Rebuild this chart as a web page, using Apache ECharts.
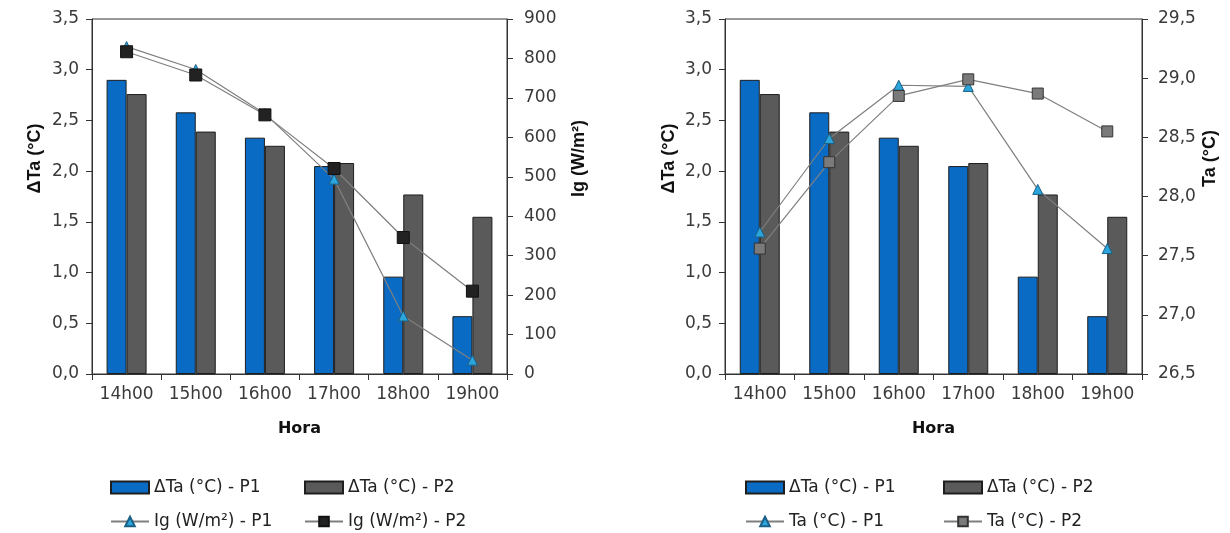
<!DOCTYPE html>
<html>
<head>
<meta charset="utf-8">
<script src="https://cdn.jsdelivr.net/npm/echarts@6/dist/echarts.min.js"></script>
<style>
  html, body { margin: 0; padding: 0; background: #ffffff; }
  #chart { width: 1230px; height: 533px; }
</style>
</head>
<body>
<div id="chart"></div>
<script>
// ---- Data ----
const categories = ['14h00', '15h00', '16h00', '17h00', '18h00', '19h00'];
const dTaP1 = [2.90, 2.58, 2.33, 2.05, 0.96, 0.57];
const dTaP2 = [2.76, 2.39, 2.25, 2.08, 1.77, 1.55];
const igP1 = [830, 772, 660, 494, 147, 35];
const igP2 = [817, 758, 657, 521, 346, 210];
const taP1 = [27.70, 28.49, 28.94, 28.93, 28.06, 27.56];
const taP2 = [27.56, 28.29, 28.85, 28.99, 28.87, 28.55];

const nameBarP1 = 'ΔTa (°C) - P1';
const nameBarP2 = 'ΔTa (°C) - P2';
const nameIgP1 = 'Ig (W/m²) - P1';
const nameIgP2 = 'Ig (W/m²) - P2';
const nameTaP1 = 'Ta (°C) - P1';
const nameTaP2 = 'Ta (°C) - P2';

// ---- Styles ----
const FONT = '"DejaVu Sans", Arial, sans-serif';
const TITLE_FONT = '"Liberation Sans", Arial, sans-serif';
const AXIS_COLOR = '#333333';
const LABEL_COLOR = '#3a3a3a';
const BLUE = '#0a6bc4';
const GRAY = '#5a5a5a';
const EDGE = '#1e1e1e';
const TRI = '#2aa6dc';
const LINE_COLOR = '#7f7f7f';

const comma = v => v.toFixed(1).replace('.', ',');

function xAxis(gridIndex) {
  return {
    type: 'category', gridIndex: gridIndex, data: categories, boundaryGap: true,
    name: 'Hora', nameLocation: 'middle', nameGap: 47,
    nameTextStyle: { fontFamily: FONT, fontSize: 16, fontWeight: 'bold', color: '#111' },
    axisLine: { lineStyle: { color: AXIS_COLOR, width: 1 } },
    axisTick: { show: true, interval: 0, length: 6, lineStyle: { color: AXIS_COLOR } },
    axisLabel: { interval: 0, hideOverlap: false, fontFamily: FONT, fontSize: 17, color: LABEL_COLOR, margin: 12 },
    splitLine: { show: false }
  };
}

function yAxis(gridIndex, opts) {
  return Object.assign({
    type: 'value', gridIndex: gridIndex,
    nameLocation: 'middle', nameRotate: 90,
    axisLine: { show: true, lineStyle: { color: AXIS_COLOR, width: 1 } },
    axisTick: { show: true, length: 6, lineStyle: { color: AXIS_COLOR } },
    splitLine: { show: false }
  }, opts);
}

const nameStyle = (pad) => ({ fontFamily: TITLE_FONT, fontSize: 18, fontWeight: 'bold', color: '#111', padding: pad });

function barSeries(name, data, color, xi, yi) {
  return {
    name: name, type: 'bar', xAxisIndex: xi, yAxisIndex: yi, data: data,
    barWidth: 20, barGap: '0%',
    itemStyle: { color: color, borderColor: EDGE, borderWidth: 1 },
    z: 2
  };
}

function lineSeries(name, data, symbol, size, fill, border, xi, yi) {
  return {
    name: name, type: 'line', xAxisIndex: xi, yAxisIndex: yi, data: data,
    symbol: symbol, symbolSize: size,
    lineStyle: { color: LINE_COLOR, width: 1.2 },
    itemStyle: { color: fill, borderColor: border, borderWidth: 1 },
    z: 5
  };
}

function legendItem(name, left, top, icon) {
  const l = {
    data: [name], left: left, top: top, orient: 'horizontal', padding: 0,
    itemWidth: 38, itemHeight: 12, itemGap: 4,
    textStyle: { fontFamily: FONT, fontSize: 17, color: '#222' },
    selectedMode: false
  };
  if (icon) l.icon = icon;
  return l;
}

const option = {
  backgroundColor: '#ffffff',
  animation: false,
  grid: [
    { left: 92, right: 723, top: 19, bottom: 159, show: true, borderColor: AXIS_COLOR, borderWidth: 1 },
    { left: 725, right: 88, top: 19, bottom: 159, show: true, borderColor: AXIS_COLOR, borderWidth: 1 }
  ],
  legend: [
    legendItem(nameBarP1, 110, 479, 'rect'),
    legendItem(nameBarP2, 304, 479, 'rect'),
    legendItem(nameIgP1, 110, 513),
    legendItem(nameIgP2, 304, 513),
    legendItem(nameBarP1, 745, 479, 'rect'),
    legendItem(nameBarP2, 943, 479, 'rect'),
    legendItem(nameTaP1, 745, 513),
    legendItem(nameTaP2, 943, 513)
  ],
  xAxis: [xAxis(0), xAxis(1)],
  yAxis: [
    yAxis(0, {
      position: 'left', min: 0, max: 3.5, interval: 0.5,
      name: 'ΔTa (°C)', nameGap: 48, nameTextStyle: nameStyle([0, 0, 0, 76]),
      axisLabel: { fontFamily: FONT, fontSize: 17, color: LABEL_COLOR, margin: 13, formatter: comma }
    }),
    yAxis(0, {
      position: 'right', min: 0, max: 900, interval: 100,
      name: 'Ig (W/m²)', nameGap: 63, nameTextStyle: nameStyle([0, 0, 0, 76]),
      axisLabel: { fontFamily: FONT, fontSize: 17, color: LABEL_COLOR, margin: 17 }
    }),
    yAxis(1, {
      position: 'left', min: 0, max: 3.5, interval: 0.5,
      name: 'ΔTa (°C)', nameGap: 47, nameTextStyle: nameStyle([0, 0, 0, 76]),
      axisLabel: { fontFamily: FONT, fontSize: 17, color: LABEL_COLOR, margin: 13, formatter: comma }
    }),
    yAxis(1, {
      position: 'right', min: 26.5, max: 29.5, interval: 0.5,
      name: 'Ta (°C)', nameGap: 59, nameTextStyle: nameStyle([0, 0, 0, 76]),
      axisLabel: { fontFamily: FONT, fontSize: 17, color: LABEL_COLOR, margin: 16, formatter: comma }
    })
  ],
  series: [
    barSeries(nameBarP1, dTaP1, BLUE, 0, 0),
    barSeries(nameBarP2, dTaP2, GRAY, 0, 0),
    lineSeries(nameIgP1, igP1, 'triangle', 10, TRI, '#1b5f86', 0, 1),
    lineSeries(nameIgP2, igP2, 'rect', 12, '#222222', '#111111', 0, 1),
    barSeries(nameBarP1, dTaP1, BLUE, 1, 2),
    barSeries(nameBarP2, dTaP2, GRAY, 1, 2),
    lineSeries(nameTaP1, taP1, 'triangle', 10, TRI, '#1b5f86', 1, 3),
    lineSeries(nameTaP2, taP2, 'rect', 11, '#7a7a7a', '#333333', 1, 3)
  ]
};

const chart = echarts.init(document.getElementById('chart'), null, { renderer: 'canvas' });
chart.setOption(option);
</script>
</body>
</html>
